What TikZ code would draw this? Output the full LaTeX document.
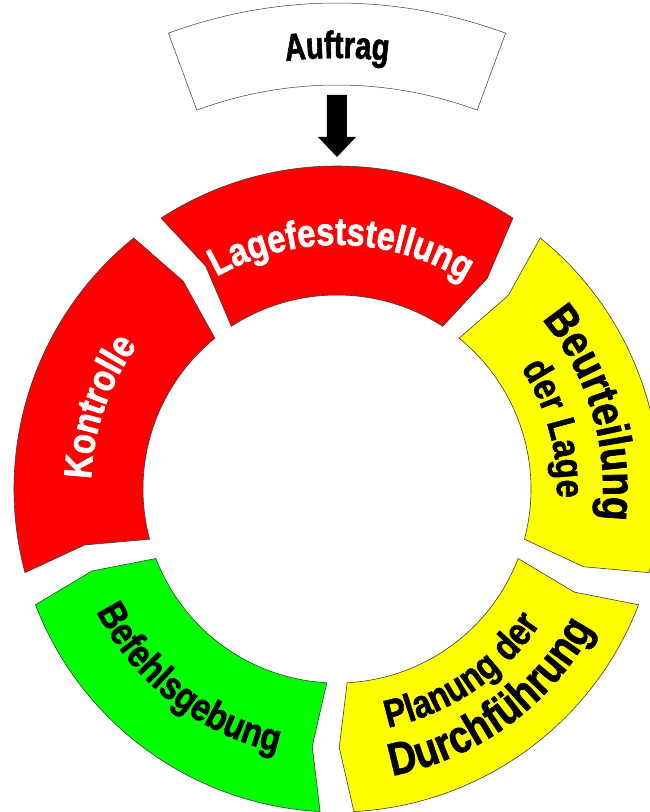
\documentclass[tikz,border=0pt]{standalone}
\usepackage{fontspec}
\usetikzlibrary{decorations.text}
\newfontfamily\condfont[FakeStretch=0.84,FakeBold=1.5]{Liberation Sans}
\newfontfamily\condfontA[FakeStretch=0.76,FakeBold=1.5]{Liberation Sans}
\definecolor{segred}{RGB}{255,0,0}
\definecolor{segyellow}{RGB}{255,255,0}
\definecolor{seggreen}{RGB}{0,255,0}
\definecolor{edgegray}{RGB}{60,60,60}
\tikzset{
  segstyle/.style={draw=edgegray, line width=0.6pt, line join=miter},
}
% ring segment: #1 centre angle, #2 fill colour
\newcommand\ringseg[2]{%
  \filldraw[segstyle, fill=#2]
    ({#1+33}:323) arc[start angle={#1+33}, end angle={#1-33}, radius=323]
    -- ({#1-35.5}:258.5) -- ({#1-33}:194)
    arc[start angle={#1-33}, end angle={#1+33}, radius=194]
    -- ({#1+30.5}:258.5) -- cycle;}
% clockwise text (tops outward): angle, radius, size, colour, text
\newcommand\cwlabel[5]{%
  \path[decorate, decoration={text along path, text align=center, text color=#4,
      text={|\condfont\bfseries\fontsize{#3}{#3}\selectfont|#5}}]
    ({#1+70}:#2) arc[start angle={#1+70}, end angle={#1-70}, radius=#2];}
% counter-clockwise text (tops inward)
\newcommand\ccwlabel[5]{%
  \path[decorate, decoration={text along path, text align=center, text color=#4,
      text={|\condfont\bfseries\fontsize{#3}{#3}\selectfont|#5}}]
    ({#1-70}:#2) arc[start angle={#1-70}, end angle={#1+70}, radius=#2];}
\begin{document}
\begin{tikzpicture}[x=1pt,y=1pt]
\useasboundingbox (-337,-323) rectangle (313,489);
\clip (-337,-323) rectangle (313,489);
\fill[white] (-337,-323) rectangle (313,489);
% Auftrag box
\filldraw[draw=edgegray, line width=0.5pt, fill=white]
  (110.3:486) arc[start angle=110.3, end angle=69.7, radius=486]
  -- (69.7:404) arc[start angle=69.7, end angle=110.3, radius=404] -- cycle;
\path[decorate, decoration={text along path, text align=center, text color=black,
    text={|\condfontA\bfseries\fontsize{38}{38}\selectfont|Auftrag}}]
  (130:431) arc[start angle=130, end angle=50, radius=431];
% arrow
\fill[black] (-10,394) -- (10,394) -- (10,352) -- (19,352) -- (0,332)
  -- (-19,352) -- (-10,352) -- cycle;
% ring segments
\ringseg{90}{segred}
\ringseg{18}{segyellow}
\ringseg{-54}{segyellow}
\ringseg{-126}{seggreen}
\ringseg{-198}{segred}
% labels
\cwlabel{89}{244}{39}{white}{Lagefeststellung}
\cwlabel{161}{246}{39}{white}{Kontrolle}
\cwlabel{16.5}{266}{46}{black}{Beurteilung}
\cwlabel{15.5}{220}{39}{black}{der Lage}
\ccwlabel{-55.7}{244}{39}{black}{Planung der}
\ccwlabel{-53.8}{292}{46}{black}{Durchführung}
\ccwlabel{232.1}{270}{39}{black}{Befehlsgebung}
\end{tikzpicture}
\end{document}
